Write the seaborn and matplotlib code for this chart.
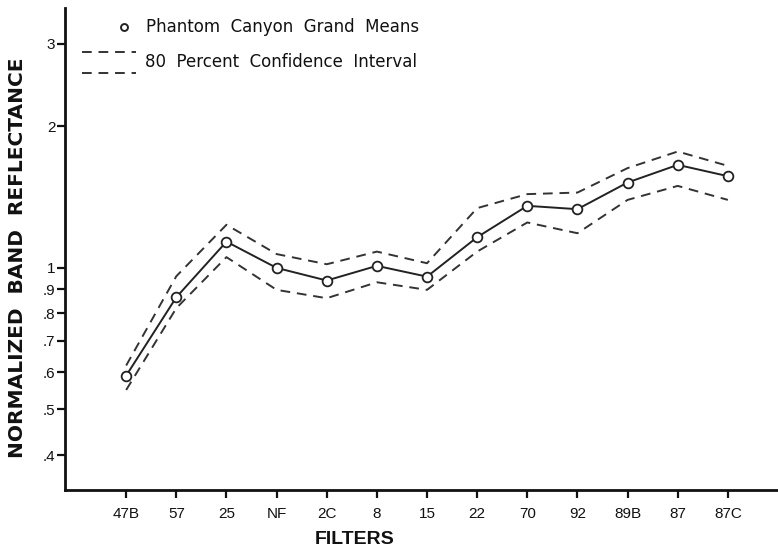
import matplotlib
matplotlib.use("Agg")
import matplotlib.pyplot as plt
import seaborn as sns
import numpy as np
import pandas as pd
from matplotlib.lines import Line2D
from matplotlib.ticker import FixedLocator, NullLocator

filters = ["47B", "57", "25", "NF", "2C", "8", "15", "22", "70", "92", "89B", "87", "87C"]
means = [0.59, 0.866, 1.137, 1.00, 0.94, 1.01, 0.958, 1.162, 1.355, 1.333, 1.519, 1.656, 1.567]
upper = [0.62, 0.96, 1.235, 1.07, 1.018, 1.083, 1.023, 1.34, 1.435, 1.446, 1.63, 1.768, 1.648]
lower = [0.55, 0.821, 1.054, 0.898, 0.862, 0.932, 0.898, 1.083, 1.249, 1.185, 1.395, 1.494, 1.395]
ytick_vals = [0.4, 0.5, 0.6, 0.7, 0.8, 0.9, 1, 2, 3]
ytick_labels = [".4", ".5", ".6", ".7", ".8", ".9", "1", "2", "3"]

sns.set_theme(style="white")
plt.rcParams["font.family"] = ["DejaVu Sans"]
narrow = ["Liberation Sans", "DejaVu Sans"]

df = pd.DataFrame({"pos": np.arange(len(filters)), "filter": filters,
                   "mean": means, "upper": upper, "lower": lower})

fig = plt.figure(figsize=(7.78, 5.54), dpi=100)
ax = fig.add_axes([65/778, 1-490/554, 1-65/778, (490-8)/554])

dash = (5, 3.5)
sns.lineplot(data=df, x="pos", y="upper", ax=ax, color="#333333", lw=1.4,
             linestyle=(0, dash))
sns.lineplot(data=df, x="pos", y="lower", ax=ax, color="#333333", lw=1.4,
             linestyle=(0, dash))
sns.lineplot(data=df, x="pos", y="mean", ax=ax, color="#222222", lw=1.4,
             marker="o", markersize=7, markerfacecolor="white",
             markeredgecolor="#222222", markeredgewidth=1.3)

ax.set_yscale("log")
ax.set_ylim(0.337, 3.57)
ax.set_xlim(-1.22, 13.0)
ax.yaxis.set_major_locator(FixedLocator(ytick_vals))
ax.yaxis.set_minor_locator(NullLocator())
ax.set_yticklabels(ytick_labels)
ax.set_xticks(df["pos"])
ax.set_xticklabels(filters)
ax.set_xlabel("")
ax.set_ylabel("")

for s in ["top", "right"]:
    ax.spines[s].set_visible(False)
for s in ["left", "bottom"]:
    ax.spines[s].set_linewidth(2.0)
    ax.spines[s].set_color("#111111")

ax.tick_params(axis="y", which="major", direction="out", length=6, width=1.6,
               left=True, labelsize=11, pad=1, colors="#111111")
ax.tick_params(axis="x", which="major", direction="out", length=6, width=1.6,
               bottom=True, labelsize=11, pad=6, colors="#111111")
for lab in ax.get_xticklabels() + ax.get_yticklabels():
    lab.set_family(narrow)

fig.text(18/778, 1-258/554, "NORMALIZED  BAND  REFLECTANCE", rotation=90,
         ha="center", va="center", fontsize=14.5, fontweight="bold",
         color="#111111")
fig.text(355/778, 1-540/554, "FILTERS", ha="center", va="center",
         fontsize=14, fontweight="bold", family=narrow, color="#111111")

# legend key
tr = fig.transFigure
fig.add_artist(Line2D([124/778], [1-27/554], transform=tr, marker="o",
                      markersize=5, markerfacecolor="white",
                      markeredgecolor="#222222", markeredgewidth=1.4, lw=0))
fig.text(146/778, 1-27/554, "Phantom  Canyon  Grand  Means", ha="left",
         va="center", fontsize=12, color="#111111")
for yy in (52, 73):
    fig.add_artist(Line2D([82/778, 136/778], [1-yy/554, 1-yy/554],
                          transform=tr, color="#333333", lw=1.4,
                          linestyle=(0, dash)))
fig.text(145/778, 1-62/554, "80  Percent  Confidence  Interval", ha="left",
         va="center", fontsize=12, color="#111111")

fig.savefig("out.png", dpi=100)
